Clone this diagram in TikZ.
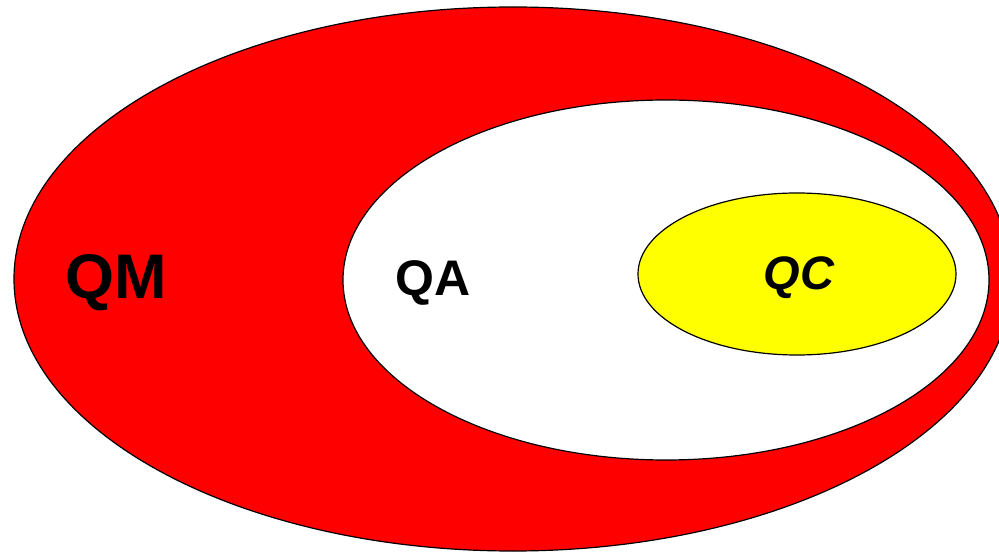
\documentclass[tikz,border=0pt]{standalone}
\usepackage{fontspec}
\setmainfont{Liberation Sans}
\usetikzlibrary{positioning}
\definecolor{qmred}{RGB}{255,0,0}
\definecolor{qcyellow}{RGB}{255,255,0}
\tikzset{
  set/.style   = {draw=black, line width=1.2pt},
  qmset/.style = {set, fill=qmred},
  qaset/.style = {set, fill=white},
  qcset/.style = {set, fill=qcyellow},
  lbl/.style   = {inner sep=0pt, font=\bfseries}
}
\begin{document}
\begin{tikzpicture}[x=1pt, y=-1pt]
  \useasboundingbox (0,0) rectangle (999,553);

  % nested sets
  \begin{scope}
    \clip (0,0) rectangle (999,553);
    \draw[qmset] (513,279) ellipse [x radius=499, y radius=272];
  \end{scope}
  \draw[qaset] (666,280) ellipse [x radius=323, y radius=180];
  \draw[qcset] (797,274) ellipse [x radius=159, y radius=81];

  % labels
  \node[lbl, font=\bfseries\fontsize{63}{63}\selectfont] (QM) at (116,283) {QM};
  \node[lbl, font=\bfseries\fontsize{50}{50}\selectfont] (QA) at (433,283) {QA};
  \node[lbl, font=\bfseries\itshape\fontsize{47}{47}\selectfont] (QC) at (799,278) {QC};
\end{tikzpicture}
\end{document}
